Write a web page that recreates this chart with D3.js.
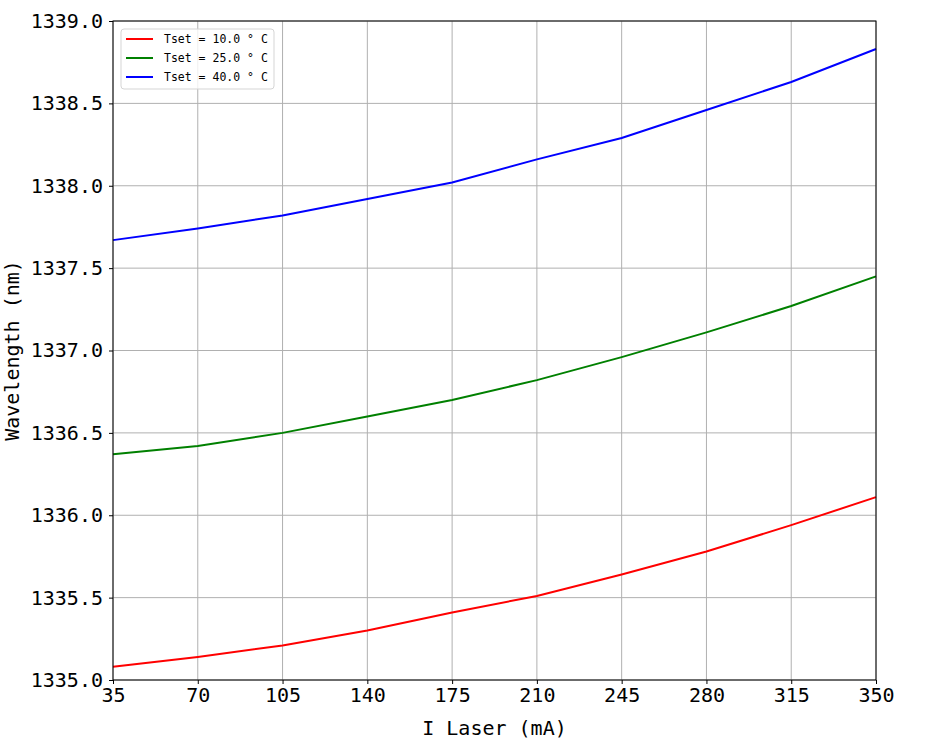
<!DOCTYPE html>
<html>
<head>
<meta charset="utf-8">
<script src="https://cdn.jsdelivr.net/npm/d3@7"></script>
<style>
  body { margin: 0; background: #fff; }
  text { font-family: "DejaVu Sans Mono", "Liberation Mono", monospace; }
</style>
</head>
<body>
<div id="chart"></div>
<script>
// laser current (mA)
const currents = [35, 70, 105, 140, 175, 210, 245, 280, 315, 350];
// wavelength (nm) for each set temperature
const wl10 = [1335.08, 1335.14, 1335.21, 1335.30, 1335.41, 1335.51, 1335.64, 1335.78, 1335.94, 1336.11];
const wl25 = [1336.37, 1336.42, 1336.50, 1336.60, 1336.70, 1336.82, 1336.96, 1337.11, 1337.27, 1337.45];
const wl40 = [1337.67, 1337.74, 1337.82, 1337.92, 1338.02, 1338.16, 1338.29, 1338.46, 1338.63, 1338.83];
const seriesNames = ["Tset = 10.0 ° C", "Tset = 25.0 ° C", "Tset = 40.0 ° C"];
const seriesColors = ["red", "green", "blue"];
const yTicks = [1335.0, 1335.5, 1336.0, 1336.5, 1337.0, 1337.5, 1338.0, 1338.5, 1339.0];

const config = {
    containerWidth: 927,
    containerHeight: 745,
    margin: { top: 21, right: 51, bottom: 65, left: 113 }
};
const width = config.containerWidth - config.margin.left - config.margin.right;
const height = config.containerHeight - config.margin.top - config.margin.bottom;

const svg = d3.select("#chart")
    .append("svg")
    .attr("width", config.containerWidth)
    .attr("height", config.containerHeight);

const g = svg.append("g")
    .attr("transform", `translate(${config.margin.left},${config.margin.top})`);

const xScale = d3.scaleLinear().domain([35, 350]).range([0, width]);
const yScale = d3.scaleLinear().domain([1335, 1339]).range([height, 0]);

// grid
g.append("g")
    .selectAll("line.vgrid")
    .data(currents)
    .enter().append("line")
    .attr("x1", d => xScale(d)).attr("x2", d => xScale(d))
    .attr("y1", 0).attr("y2", height)
    .attr("stroke", "#b0b0b0").attr("stroke-width", 1);

g.append("g")
    .selectAll("line.hgrid")
    .data(yTicks)
    .enter().append("line")
    .attr("x1", 0).attr("x2", width)
    .attr("y1", d => yScale(d)).attr("y2", d => yScale(d))
    .attr("stroke", "#b0b0b0").attr("stroke-width", 1);

// lines
const series = [wl10, wl25, wl40];
const line = d3.line()
    .x((d, i) => xScale(currents[i]))
    .y(d => yScale(d));

series.forEach((s, k) => {
    g.append("path")
        .datum(s)
        .attr("fill", "none")
        .attr("stroke", seriesColors[k])
        .attr("stroke-width", 2)
        .attr("d", line);
});

// frame
g.append("rect")
    .attr("width", width).attr("height", height)
    .attr("fill", "none").attr("stroke", "black").attr("stroke-width", 1);

// axes
const xAxis = d3.axisBottom(xScale).tickValues(currents).tickSize(4).tickPadding(4);
const yAxis = d3.axisLeft(yScale).tickValues(yTicks).tickSize(4).tickPadding(6)
    .tickFormat(d3.format(".1f"));

const xg = g.append("g")
    .attr("transform", `translate(0,${height})`)
    .call(xAxis);
const yg = g.append("g").call(yAxis);

[xg, yg].forEach(a => {
    a.select(".domain").remove();
    a.selectAll("text").attr("font-size", 20).attr("fill", "black")
        .style("font-family", '"DejaVu Sans Mono", monospace');
    a.selectAll("line").attr("stroke", "black");
});

// axis titles
svg.append("text")
    .attr("x", config.margin.left + width / 2)
    .attr("y", 735)
    .attr("text-anchor", "middle")
    .attr("font-size", 20)
    .text("I Laser (mA)");

svg.append("text")
    .attr("transform", `translate(19,${config.margin.top + height / 2}) rotate(-90)`)
    .attr("text-anchor", "middle")
    .attr("font-size", 20)
    .text("Wavelength (nm)");

// legend
const legend = svg.append("g").attr("transform", "translate(121,29)");
legend.append("rect")
    .attr("width", 153).attr("height", 60)
    .attr("rx", 3)
    .attr("fill", "white").attr("fill-opacity", 0.8)
    .attr("stroke", "#d5d5d5");

seriesNames.forEach((name, k) => {
    const row = legend.append("g").attr("transform", `translate(0,${10 + k * 19})`);
    row.append("line")
        .attr("x1", 5).attr("x2", 32)
        .attr("stroke", seriesColors[k]).attr("stroke-width", 2);
    row.append("text")
        .attr("x", 43).attr("y", 4)
        .attr("font-size", 11.5)
        .text(name);
});
</script>
</body>
</html>
